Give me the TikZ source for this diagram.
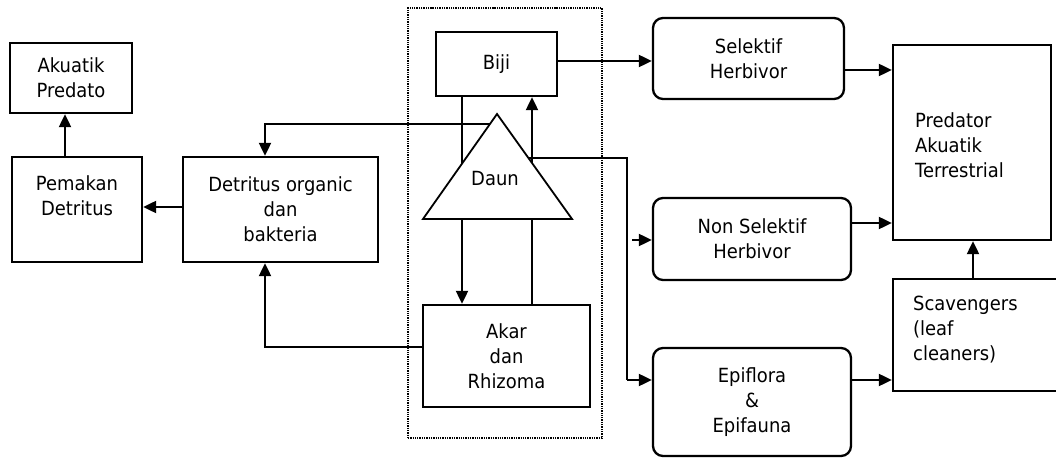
\documentclass[tikz,border=0pt]{standalone}
\usepackage{fontspec}
\setmainfont{DejaVu Sans}[FakeStretch=0.92]
\usetikzlibrary{arrows.meta,calc}
\newcommand{\txtfont}{\fontsize{19.5bp}{25bp}\selectfont}
\begin{document}
\begin{tikzpicture}[x=1bp,y=-1bp,
  box/.style={draw, line width=2.3bp, inner sep=0pt, align=center, font=\txtfont},
  rbox/.style={box, rounded corners=10bp},
  txt/.style={inner sep=0pt, font=\txtfont},
  arr/.style={line width=2bp, -{Triangle[length=13bp,width=12bp]}},
  ln/.style={line width=1.8bp}]
\useasboundingbox (0,0) rectangle (1056,458);
\clip (0,0) rectangle (1056,458);
\fill[white] (0,0) rectangle (1056,458);

% frame
\node[draw, densely dotted, line width=1.3bp, minimum width=194bp, minimum height=430bp, inner sep=0pt] (frame) at (505,223) {};

% left boxes
\node[box, minimum width=122bp, minimum height=70bp] (akuatik) at (71,78) {Akuatik\\Predato};
\node[box, minimum width=130bp, minimum height=105bp] (pemakan) at (77,209.5) {};
\node[txt, align=center] (pemakant) at (77,196) {Pemakan\\Detritus};
\node[box, minimum width=195bp, minimum height=105bp] (detritus) at (280.5,209.5) {Detritus organic\\dan\\bakteria};

% centre
\node[box, minimum width=121bp, minimum height=64bp] (biji) at (496.5,64) {Biji};
\node[box, minimum width=167bp, minimum height=102bp] (akar) at (506.5,356) {Akar\\dan\\Rhizoma};
\coordinate (dA) at (497,114);
\coordinate (dL) at (423,219);
\coordinate (dR) at (572,219);
\draw[arr] (462,0 |- biji.south) -- (462,0 |- akar.north);
\draw[arr] (532,0 |- akar.north) -- (532,0 |- biji.south);
\filldraw[fill=white, line width=1.8bp, line join=miter] (dA) -- (dL) -- (dR) -- cycle;
\node[txt] (daun) at (495,179) {Daun};

% right boxes
\node[rbox, minimum width=191bp, minimum height=81bp] (selektif) at (748.5,58.5) {Selektif\\Herbivor};
\node[rbox, minimum width=198bp, minimum height=82bp] (nonsel) at (752,239) {Non Selektif\\Herbivor};
\node[rbox, minimum width=198bp, minimum height=108bp] (epi) at (752,402) {Epiflora\\\&\\Epifauna};
\node[box, minimum width=158bp, minimum height=195bp] (pred) at (972,142.5) {};
\node[txt, align=left, anchor=west] (predt) at (915,145) {Predator\\Akuatik\\Terrestrial};
\node[box, minimum width=190bp, minimum height=112bp] (scav) at (988,335) {};
\node[txt, align=left, anchor=west] (scavt) at (913,330) {Scavengers\\(leaf\\cleaners)};

% connectors
\draw[arr] (65,0 |- pemakan.north) -- (65,0 |- akuatik.south);
\draw[arr] (detritus.west |- 0,207) -- (pemakan.east |- 0,207);
\draw[arr] ($(dA)!0.095!(dL)$) -| (265,0 |- detritus.north);
\draw[arr] (akar.west |- 0,347) -| (265,0 |- detritus.south);
\draw[arr] (biji.east |- 0,61) -- (selektif.west |- 0,61);
\draw[ln] ($(dA)!0.42!(dR)$) -| (627,380);
\draw[arr] (627,380) -- (epi.west |- 0,380);
\draw[arr] (632,240) -- (nonsel.west |- 0,240);
\draw[arr] (selektif.east |- 0,70) -- (pred.west |- 0,70);
\draw[arr] (nonsel.east |- 0,223) -- (pred.west |- 0,223);
\draw[arr] (epi.east |- 0,380) -- (scav.west |- 0,380);
\draw[arr] (973,0 |- scav.north) -- (973,0 |- pred.south);
\end{tikzpicture}
\end{document}
